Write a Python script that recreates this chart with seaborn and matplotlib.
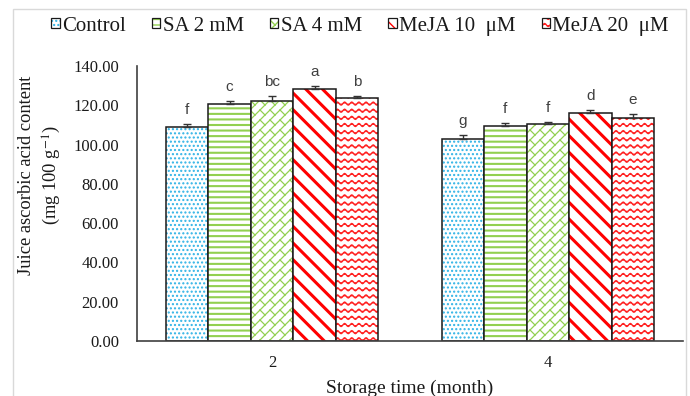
import warnings
import numpy as np
import pandas as pd
import matplotlib
matplotlib.use('Agg')
import matplotlib.pyplot as plt
import matplotlib.hatch as mhatch
import matplotlib.colors as mcolors
from matplotlib.path import Path
from matplotlib.patches import Rectangle
from matplotlib.ticker import FormatStrFormatter
import seaborn as sns

warnings.filterwarnings('ignore')

# 数据
months = ['2', '4']
treatments = ['Control', 'SA 2 mM', 'SA 4 mM', 'MeJA 10  μM', 'MeJA 20  μM']
mean_m2 = [108.8, 120.8, 122.2, 128.3, 123.5]
mean_m4 = [102.7, 109.5, 110.3, 116.2, 113.7]
err_m2 = [1.7, 1.5, 2.6, 1.5, 1.4]
err_m4 = [2.2, 1.5, 1.4, 1.2, 1.9]
letters_m2 = ['f', 'c', 'bc', 'a', 'b']
letters_m4 = ['g', 'f', 'f', 'd', 'e']


class WaveHatch(mhatch.HatchPatternBase):
	#波浪线填充
	def __init__(self, hatch, density):
		verts, codes = [], []
		if hatch.count('w'):
			rows = 14
			xs = np.linspace(0, 1, rows * 8 + 1)
			for r in range(rows):
				ys = (r + 0.5) / rows + 0.015 * np.sin(2 * np.pi * rows * xs)
				verts += list(zip(xs, ys))
				codes += [Path.MOVETO] + [Path.LINETO] * (len(xs) - 1)
		self.verts = np.array(verts, float).reshape(-1, 2)
		self.codes = np.array(codes, dtype=Path.code_type)
		self.num_vertices = len(self.verts)

	def set_vertices_and_codes(self, vertices, codes):
		vertices[:] = self.verts
		codes[:] = self.codes


class BrickHatch(mhatch.HatchPatternBase):
	#斜砖块填充, 长线沿 y=x+c, 短线垂直并错开半块
	def __init__(self, hatch, density):
		verts, codes = [], []
		if hatch.count('b'):
			d = 0.1
			P = 0.2
			for k in range(-12, 13):
				c = k * d
				verts += [(-0.1, -0.1 + c), (1.1, 1.1 + c)]
				codes += [Path.MOVETO, Path.LINETO]
				off = P / 2 if k % 2 else 0
				for j in range(-15, 16):
					u = j * P + off
					t = (u - c) / 2
					verts += [(t, t + c), (t + d / 2, t + c - d / 2)]
					codes += [Path.MOVETO, Path.LINETO]
		self.verts = np.array(verts, float).reshape(-1, 2)
		self.codes = np.array(codes, dtype=Path.code_type)
		self.num_vertices = len(self.verts)

	def set_vertices_and_codes(self, vertices, codes):
		vertices[:] = self.verts
		codes[:] = self.codes


mhatch._hatch_types.extend([WaveHatch, BrickHatch])

sns.set_theme(style='white')
plt.rcParams['font.family'] = ['Liberation Serif', 'DejaVu Serif']
plt.rcParams['mathtext.fontset'] = 'stix'

df = pd.DataFrame({
	'month': np.repeat(months, len(treatments)),
	'treatment': treatments * len(months),
	'value': mean_m2 + mean_m4,
})
errs = [err_m2, err_m4]
letters = [letters_m2, letters_m4]

# hatch, hatch colour, hatch linewidth
styles = [
	('....', '#2FB3E6', 1.0),
	('---', '#92D050', 1.5),
	('b', '#92D050', 0.9),
	('\\\\', '#FF0000', 2.2),
	('w', '#FF2020', 1.0),
]

fig = plt.figure(figsize=(6.9, 3.96), dpi=100)
ax = fig.add_axes([137 / 690, 55 / 396, 546 / 690, 275 / 396])
sns.barplot(data=df, x='month', y='value', hue='treatment', order=months,
	hue_order=treatments, width=0.77, gap=0, errorbar=None, legend=False,
	saturation=1, ax=ax)

bar_conts = list(ax.containers)
for i, cont in enumerate(bar_conts):
	hatch, hc, hlw = styles[i]
	for j, bar in enumerate(cont):
		bar.set_facecolor('white')
		bar.set_edgecolor('#1a1a1a')
		bar.set_linewidth(1.1)
		bar.set_hatch(hatch)
		bar._hatch_color = mcolors.to_rgba(hc)
		if hasattr(bar, 'set_hatch_linewidth'):
			bar.set_hatch_linewidth(hlw)
		else:
			bar._hatch_linewidth = hlw
		x = bar.get_x() + bar.get_width() / 2
		h = bar.get_height()
		e = errs[j][i]
		ax.errorbar(x, h, yerr=[[0], [e]], fmt='none', ecolor='#333333',
			elinewidth=1.0, capsize=2.6, capthick=1.0, zorder=5)
		ax.annotate(letters[j][i], (x, h + e), xytext=(0, 5), textcoords='offset points',
			ha='center', va='bottom', fontsize=11, family='Liberation Sans', color='#404040')

ax.set_ylim(0, 140)
ax.set_yticks(np.arange(0, 141, 20))
ax.yaxis.set_major_formatter(FormatStrFormatter('%.2f'))
ax.set_xlim(-0.49, 1.49)
ax.tick_params(axis='both', length=0, labelsize=12, colors='#1a1a1a')
ax.tick_params(axis='y', pad=13)
ax.tick_params(axis='x', pad=10)
ax.set_ylabel('')
ax.set_xlabel('Storage time (month)', fontsize=14, labelpad=6, color='#1a1a1a')
sns.despine(ax=ax)
for s in ['left', 'bottom']:
	ax.spines[s].set_color('#404040')
	ax.spines[s].set_linewidth(1.2)

fig.text(0.0587, 0.558, 'Juice ascorbic acid content\n(mg 100 g$^{-1}$)', rotation=90,
	ha='center', va='center', multialignment='center', fontsize=13.3, linespacing=1.35,
	color='#1a1a1a')

leg = fig.legend(handles=[c[0] for c in bar_conts], labels=treatments, loc='center',
	bbox_to_anchor=(0.522, 0.934), ncol=5, frameon=False, fontsize=15,
	handlelength=0.4, handleheight=0.4, handletextpad=0.12, columnspacing=1.25,
	borderaxespad=0, borderpad=0)
for t in leg.get_texts():
	t.set_color('#1a1a1a')
for p in leg.get_patches():
	p.set_linewidth(0.9)

# 外框
fig.add_artist(Rectangle((13 / 690, -0.05), 673 / 690, 1 - 9 / 396 + 0.05,
	transform=fig.transFigure, fill=False, edgecolor='#d9d9d9', linewidth=1.0))

fig.savefig('out.png', dpi=100)
